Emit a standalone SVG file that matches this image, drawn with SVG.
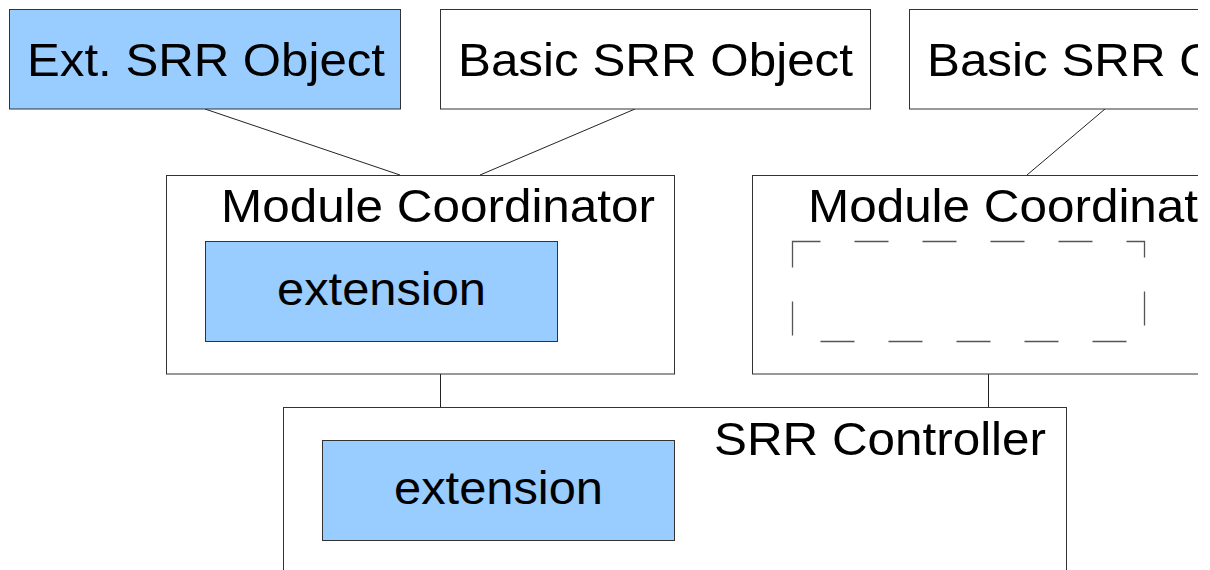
<svg xmlns="http://www.w3.org/2000/svg" width="1210" height="570" viewBox="0 0 1210 570">
<defs>
<style>
.box{fill:#ffffff;stroke:#333333;stroke-width:1}
.ext{fill:#99ccff;stroke:#333333;stroke-width:1}
.dash{fill:none;stroke:#555555;stroke-width:1.3;stroke-dasharray:34 34;stroke-dashoffset:6}
.lbl{font-family:"Liberation Sans",Arial,sans-serif;font-size:47px;fill:#000000}
.conn{stroke:#222222;stroke-width:1;fill:none}
</style>
<clipPath id="clip"><rect x="0" y="0" width="1198" height="570"/></clipPath>
</defs>
<rect x="0" y="0" width="1210" height="570" fill="#ffffff"/>
<g clip-path="url(#clip)">
<g id="connectors">
<line class="conn" x1="205" y1="109" x2="400" y2="175"/>
<line class="conn" x1="635" y1="109" x2="480" y2="175"/>
<line class="conn" x1="1105" y1="109" x2="1027" y2="175"/>
<line class="conn" x1="440.5" y1="374" x2="440.5" y2="407"/>
<line class="conn" x1="988.5" y1="374" x2="988.5" y2="407"/>
</g>
<g id="ext-srr-object">
<rect class="ext" x="9.5" y="9.5" width="391" height="99.5"/>
<text class="lbl" x="27" y="76" textLength="358" lengthAdjust="spacingAndGlyphs">Ext. SRR Object</text>
</g>
<g id="basic-srr-object-1">
<rect class="box" x="440.5" y="9.5" width="430" height="99.5"/>
<text class="lbl" x="458" y="76" textLength="395" lengthAdjust="spacingAndGlyphs">Basic SRR Object</text>
</g>
<g id="basic-srr-object-2">
<rect class="box" x="909.5" y="9.5" width="430" height="99.5"/>
<text class="lbl" x="927" y="76" textLength="395" lengthAdjust="spacingAndGlyphs">Basic SRR Object</text>
</g>
<g id="module-coordinator-1">
<rect class="box" x="166.5" y="175.5" width="508" height="198.5"/>
<text class="lbl" x="221" y="222" textLength="434" lengthAdjust="spacingAndGlyphs">Module Coordinator</text>
<g id="extension-1">
<rect class="ext" x="205.5" y="241.5" width="352" height="100"/>
<text class="lbl" x="277" y="305" textLength="209" lengthAdjust="spacingAndGlyphs">extension</text>
</g>
</g>
<g id="module-coordinator-2">
<rect class="box" x="752.5" y="175.5" width="508" height="198.5"/>
<text class="lbl" x="808" y="222" textLength="434" lengthAdjust="spacingAndGlyphs">Module Coordinator</text>
<rect class="dash" x="792.5" y="241.5" width="352" height="100"/>
</g>
<g id="srr-controller">
<rect class="box" x="283.5" y="407.5" width="783" height="200"/>
<text class="lbl" x="714" y="455" textLength="332" lengthAdjust="spacingAndGlyphs">SRR Controller</text>
<g id="extension-2">
<rect class="ext" x="322.5" y="440.5" width="352" height="100"/>
<text class="lbl" x="394" y="504" textLength="209" lengthAdjust="spacingAndGlyphs">extension</text>
</g>
</g>
</g>
</svg>
